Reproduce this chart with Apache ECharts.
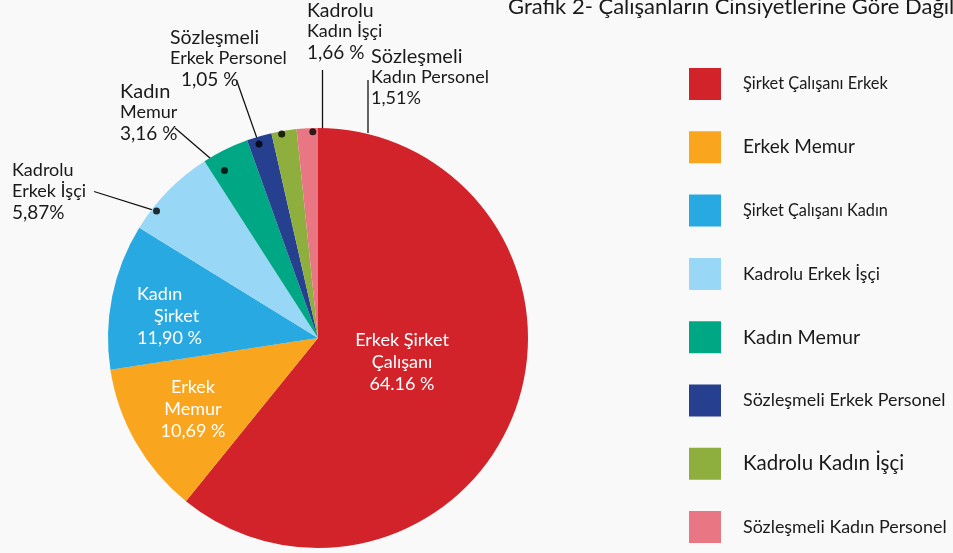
<!DOCTYPE html>
<html>
<head>
<meta charset="utf-8">
<script src="https://cdn.jsdelivr.net/npm/echarts@6/dist/echarts.min.js"></script>
<style>
    html, body { margin: 0; padding: 0; background: #f9f9f9; }
    #chart { width: 953px; height: 553px; }
</style>
</head>
<body>
<div id="chart"></div>
<script>
(function () {
    'use strict';

    var titleText = 'Grafik 2- Çalışanların Cinsiyetlerine Göre Dağılımı';

    var names = [
        'Şirket Çalışanı Erkek', 'Erkek Memur', 'Şirket Çalışanı Kadın', 'Kadrolu Erkek İşçi',
        'Kadın Memur', 'Sözleşmeli Erkek Personel', 'Kadrolu Kadın İşçi', 'Sözleşmeli Kadın Personel'
    ];
    // slice sizes as they are drawn (the drawing does not follow the printed numbers exactly)
    var drawnShare = [60.83, 11.75, 11.22, 7.11, 3.61, 1.92, 1.93, 1.63];
    var printedPct = ['64.16 %', '10,69 %', '11,90 %', '5,87%', '3,16 %', '1,05 %', '1,66 %', '1,51%'];
    var labelLines = [
        ['Erkek Şirket', 'Çalışanı'], ['Erkek', 'Memur'], ['Kadın', 'Şirket'], ['Kadrolu', 'Erkek İşçi'],
        ['Kadın', 'Memur'], ['Sözleşmeli', 'Erkek Personel'], ['Kadrolu', 'Kadın İşçi'], ['Sözleşmeli', 'Kadın Personel']
    ];
    // dots on the small slices: [radius share, position on the circle in %]
    var dotPoints = [[0.978, 85.6], [0.914, 91.9], [0.965, 95.3], [0.987, 97.2], [0.983, 99.6]];

    var colors = ['#d2232a', '#f9a61e', '#29a9e1', '#98d8f6', '#00a784', '#263f8e', '#8eaf3e', '#e97783'];
    var font = 'Lato';
    var ink = '#1a1a1a';
    var cx = 318, cy = 338, radius = 210;

    var labelKeys = [
        ['w', 'w', 'w'], ['w', 'w', 'w'], ['w', 'wi', 'w'], ['d', 'd', 'p'],
        ['b', 'd', 'p'], ['b2', 'd', 'pi'], ['b2', 'd', 'p'], ['b', 'd', 'd']
    ];
    var labelPlace = [
        { x: 402, y: 329, align: 'center' },
        { x: 193, y: 376, align: 'center' },
        { x: 137, y: 283, align: 'left' },
        { x: 12, y: 160, align: 'left' },
        { x: 120, y: 81, align: 'left' },
        { x: 170, y: 27, align: 'left' },
        { x: 307, y: 0, align: 'left' },
        { x: 371, y: 46, align: 'left' }
    ];
    var lineEnds = { 3: [94, 191.5], 4: [175, 128], 5: [236.5, 80] };
    var fixedLines = { 6: [[322.5, 131], [322.5, 70]], 7: [[368, 133], [368, 80]] };
    var legendSizes = [16.4, 19, 16.3, 17.6, 19.7, 17.9, 20.5, 17.9];
    var dotPx = [];

    var legendRich = {};
    legendSizes.forEach(function (size, i) {
        legendRich['k' + i] = { fontFamily: font, fontSize: size, color: ink, padding: [0, 0, 0, 17] };
    });

    var chart = echarts.init(document.getElementById('chart'), null, { renderer: 'canvas' });

    var pieData = names.map(function (name, i) {
        var item = { name: name, value: drawnShare[i], itemStyle: { color: colors[i] } };
        if (i < 3) {
            item.labelLine = { show: false };
        }
        return item;
    });

    var option = {
        backgroundColor: '#f9f9f9',
        animation: false,
        textStyle: { fontFamily: font },
        title: {
            text: titleText,
            left: 508,
            top: -4,
            padding: 0,
            textStyle: { fontFamily: font, fontSize: 22, fontWeight: 'normal', color: ink }
        },
        legend: {
            data: names,
            orient: 'vertical',
            left: 689,
            top: 68,
            height: 482,
            padding: 0,
            icon: 'rect',
            itemWidth: 32,
            itemHeight: 32,
            itemGap: 31.3,
            selectedMode: false,
            formatter: function (name) {
                return '{k' + names.indexOf(name) + '|' + name + '}';
            },
            textStyle: { fontFamily: font, color: ink, rich: legendRich }
        },
        polar: { center: [cx, cy], radius: radius },
        angleAxis: { type: 'value', min: 0, max: 100, startAngle: 90, clockwise: true, show: false },
        radiusAxis: { type: 'value', min: 0, max: 1, show: false },
        series: [{
            type: 'pie',
            center: [cx, cy],
            radius: radius,
            startAngle: 90,
            clockwise: true,
            avoidLabelOverlap: false,
            silent: true,
            data: pieData,
            label: {
                show: true,
                position: 'outside',
                formatter: function (p) {
                    var k = labelKeys[p.dataIndex];
                    var t = labelLines[p.dataIndex];
                    return '{' + k[0] + '|' + t[0] + '}\n{' + k[1] + '|' + t[1] + '}\n{' + k[2] + '|' + printedPct[p.dataIndex] + '}';
                },
                rich: {
                    w: { fontFamily: font, fontSize: 18, color: '#ffffff', lineHeight: 22 },
                    wi: { fontFamily: font, fontSize: 18, color: '#ffffff', lineHeight: 22, padding: [0, 0, 0, 17] },
                    d: { fontFamily: font, fontSize: 18, color: ink, lineHeight: 21 },
                    b: { fontFamily: font, fontSize: 20, color: ink, lineHeight: 21 },
                    b2: { fontFamily: font, fontSize: 19.5, color: ink, lineHeight: 21 },
                    p: { fontFamily: font, fontSize: 19, color: ink, lineHeight: 21 },
                    pi: { fontFamily: font, fontSize: 19, color: ink, lineHeight: 21, padding: [0, 0, 0, 11] }
                }
            },
            labelLine: {
                show: true,
                length: 10,
                length2: 10,
                lineStyle: { color: '#111111', width: 1.3 }
            },
            labelLayout: function (p) {
                var i = p.dataIndex;
                var place = labelPlace[i];
                var out = { x: place.x, y: place.y, align: place.align, verticalAlign: 'top' };
                if (fixedLines[i]) {
                    out.labelLinePoints = [fixedLines[i][0], fixedLines[i][0], fixedLines[i][1]];
                } else if (lineEnds[i] && dotPx[i - 3]) {
                    out.labelLinePoints = [dotPx[i - 3], dotPx[i - 3], lineEnds[i]];
                }
                return out;
            },
            emphasis: { disabled: true }
        }, {
            type: 'scatter',
            coordinateSystem: 'polar',
            data: dotPoints,
            symbolSize: 7,
            silent: true,
            z: 5,
            itemStyle: { color: '#000000' }
        }]
    };

    chart.setOption(option);

    // the leader lines start at the dots, so place them once the polar scale is known
    dotPx = dotPoints.map(function (d) {
        return chart.convertToPixel({ seriesIndex: 1 }, d);
    });
    chart.setOption(option);
}());
</script>
</body>
</html>
